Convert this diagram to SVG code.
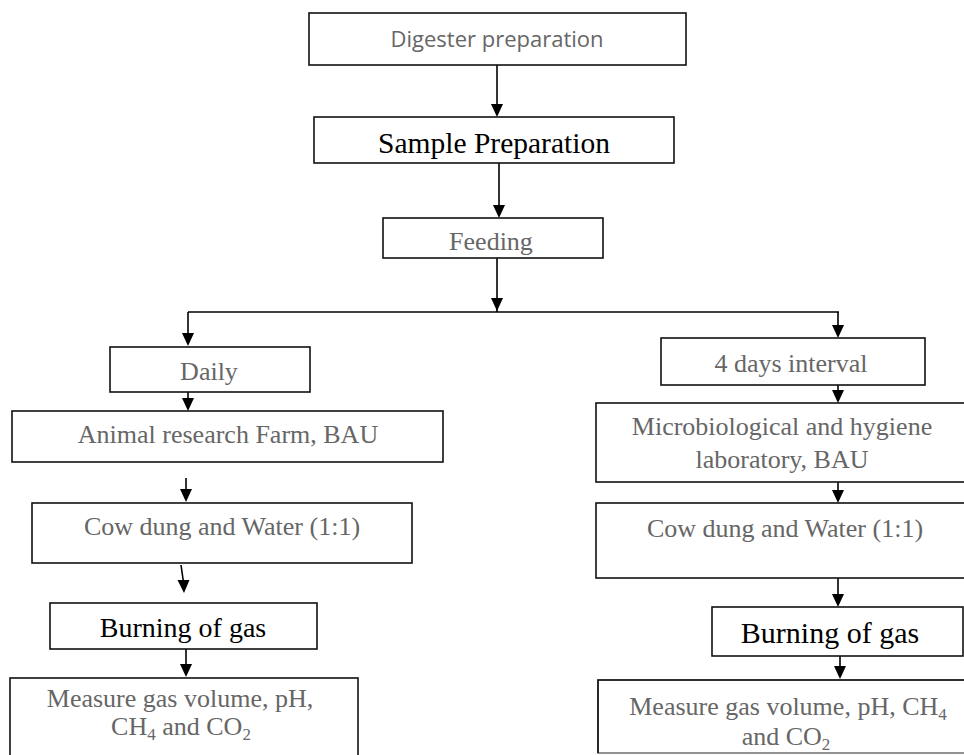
<svg xmlns="http://www.w3.org/2000/svg" width="964" height="755" viewBox="0 0 964 755">
<style>
.box{fill:#fff;stroke:#111;stroke-width:1.6}
.g{font-family:"Liberation Serif","Times New Roman",serif;font-size:26px;fill:#666;text-anchor:middle}
.k{font-family:"Liberation Serif","Times New Roman",serif;fill:#000;text-anchor:middle}
.s{font-family:"Open Sans","Noto Sans",sans-serif;font-size:22px;fill:#666;text-anchor:middle}
.ln{stroke:#000;stroke-width:1.6;fill:none}
</style>
<rect width="964" height="755" fill="#fff"/>
<g id="connectors">
<path class="ln" d="M497,65 V104"/>
<path d="M491,104 H503 L497,117 Z"/>
<path class="ln" d="M499,163 V205"/>
<path d="M493,205 H505 L499,218 Z"/>
<path class="ln" d="M497,258 V312"/>
<path d="M491,298 H503 L497,311 Z"/>
<path class="ln" d="M188,312 H839"/>
<path class="ln" d="M188,312 V334"/>
<path d="M182,333 H194 L188,346 Z"/>
<path class="ln" d="M838,312 V326"/>
<path d="M832,325 H844 L838,338 Z"/>
<path class="ln" d="M188,386 V399"/>
<path d="M182,398 H194 L188,411 Z"/>
<path class="ln" d="M186,478 V490"/>
<path d="M180,489 H192 L186,502 Z"/>
<path class="ln" d="M181,565 L183.3,581"/>
<path d="M177.5,580 H189.5 L184,593 Z"/>
<path class="ln" d="M186,649 V665"/>
<path d="M180,664 H192 L186,677 Z"/>
<path class="ln" d="M838,385 V391"/>
<path d="M832,390 H844 L838,403 Z"/>
<path class="ln" d="M838,478 V491"/>
<path d="M832,490 H844 L838,503 Z"/>
<path class="ln" d="M838,578 V595"/>
<path d="M832,594 H844 L838,607 Z"/>
<path class="ln" d="M840,650 V667"/>
<path d="M834,666 H846 L840,679 Z"/>
</g>
<g id="digester"><rect class="box" x="309" y="13" width="377" height="52"/><text class="s" x="497" y="47">Digester preparation</text></g>
<g id="sample"><rect class="box" x="314" y="117" width="360" height="46"/><text class="k" x="494" y="153" font-size="29.5">Sample Preparation</text></g>
<g id="feeding"><rect class="box" x="383" y="218" width="220" height="40"/><text class="g" x="491" y="250" font-size="27">Feeding</text></g>
<g id="daily"><rect class="box" x="110" y="347" width="200" height="45"/><text class="g" x="209" y="380">Daily</text></g>
<g id="animal"><rect class="box" x="12" y="411" width="431" height="51"/><text class="g" x="228" y="443">Animal research Farm, BAU</text></g>
<g id="cowdung-left"><rect class="box" x="32" y="503" width="380" height="60"/><text class="g" x="222" y="535">Cow dung and Water (1:1)</text></g>
<g id="burning-left"><rect class="box" x="50" y="603" width="267" height="46"/><text class="k" x="183" y="637" font-size="28">Burning of gas</text></g>
<g id="measure-left"><rect class="box" x="10" y="678" width="348" height="90"/><text class="g" x="180" y="707">Measure gas volume, pH,</text><text class="g" x="181" y="735">CH<tspan font-size="17" dy="5">4</tspan><tspan dy="-5"> and CO</tspan><tspan font-size="17" dy="5">2</tspan></text></g>
<g id="fourdays"><rect class="box" x="661" y="338" width="264" height="47"/><text class="g" x="791" y="372">4 days interval</text></g>
<g id="micro"><rect class="box" x="596" y="403" width="374" height="79"/><text class="g" x="782" y="435">Microbiological and hygiene</text><text class="g" x="782" y="468">laboratory, BAU</text></g>
<g id="cowdung-right"><rect class="box" x="596" y="503" width="380" height="75"/><text class="g" x="785" y="537">Cow dung and Water (1:1)</text></g>
<g id="burning-right"><rect class="box" x="712" y="607" width="251" height="49"/><text class="k" x="830" y="643" font-size="30">Burning of gas</text></g>
<g id="measure-right"><rect class="box" x="598" y="680" width="380" height="73" style="stroke:#777"/><path class="ln" d="M598,753 V680 H978" style="stroke:#111"/><text class="g" x="788" y="715" font-size="26.5">Measure gas volume, pH, CH<tspan font-size="17" dy="5">4</tspan></text><text class="g" x="786" y="745" font-size="26.5">and CO<tspan font-size="17" dy="5">2</tspan></text></g>
</svg>
